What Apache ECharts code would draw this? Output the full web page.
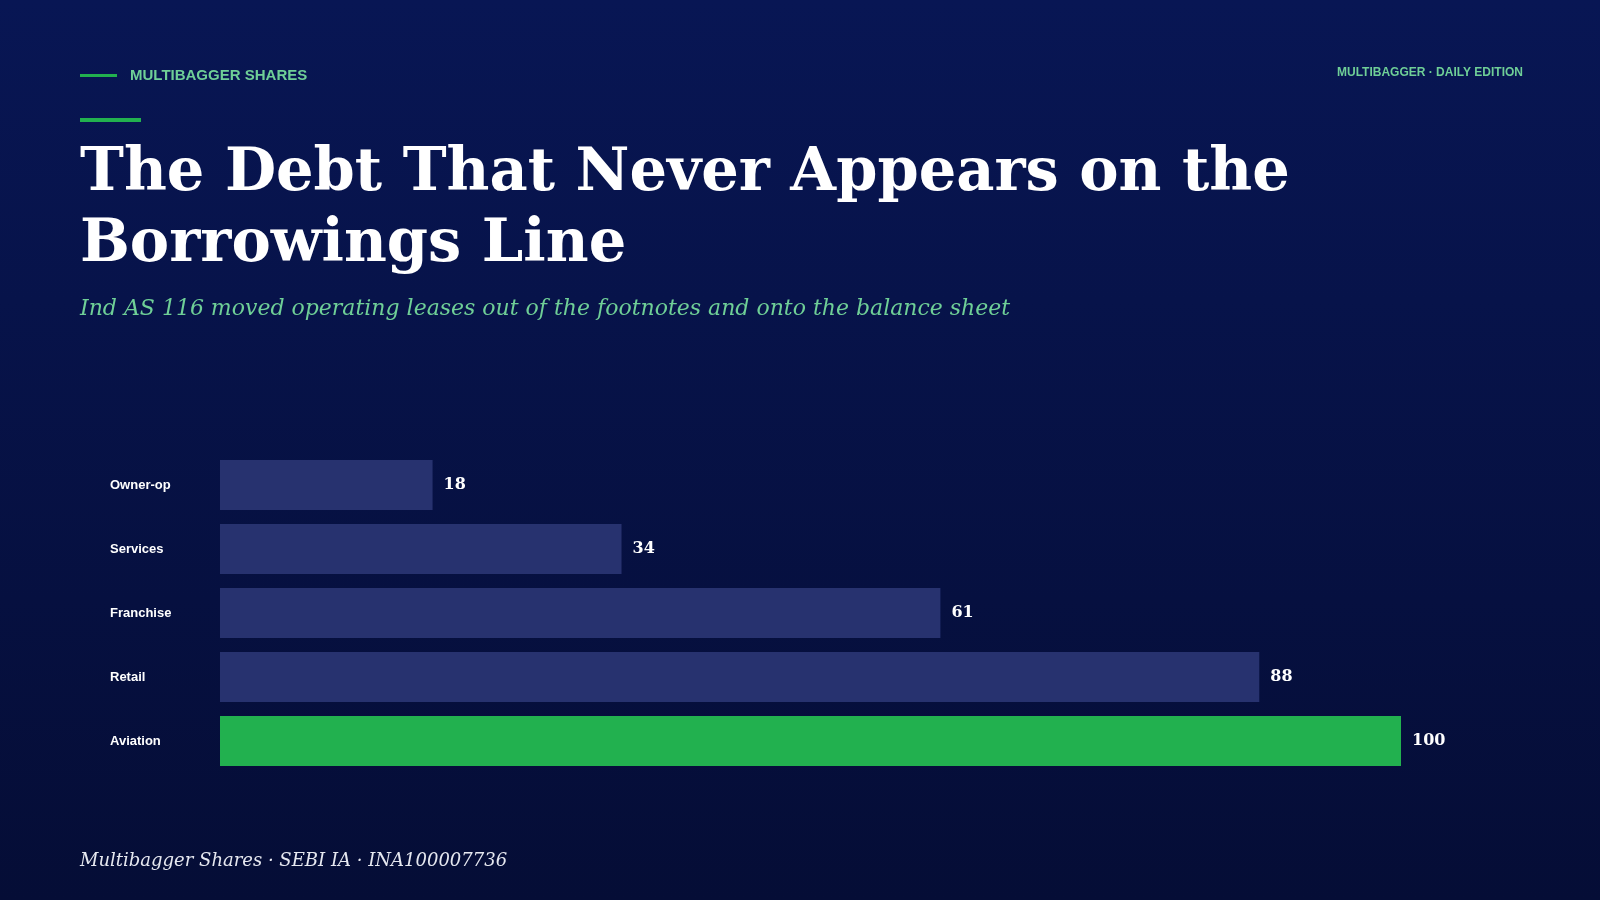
<!DOCTYPE html>
<html><head><meta charset="utf-8">
<script src="https://cdn.jsdelivr.net/npm/echarts@6/dist/echarts.min.js"></script>
<style>html,body{margin:0;padding:0;background:#050d38}#c{width:1600px;height:900px}</style>
</head><body><div id="c"></div>
<script>
const categories = ['Owner-op','Services','Franchise','Retail','Aviation'];
const values = [18,34,61,88,100];
const highlight = 'Aviation';

const chart = echarts.init(document.getElementById('c'));
const serif = '"DejaVu Serif", serif';
const sans = '"Liberation Sans", Arial, sans-serif';
chart.setOption({
  backgroundColor: {type:'linear',x:0,y:0,x2:0,y2:1,colorStops:[{offset:0,color:'#081654'},{offset:1,color:'#050d36'}]},
  grid:{left:220,right:199,top:453,bottom:127},
  xAxis:{type:'value',min:0,max:100,show:false},
  yAxis:{type:'category',inverse:true,data:categories,
    axisLine:{show:false},axisTick:{show:false},
    axisLabel:{align:'left',margin:110,color:'#ffffff',fontFamily:sans,fontWeight:'bold',fontSize:13,padding:[0,0,6,0]}},
  series:[{type:'bar',barWidth:50,animation:false,
    data:values.map((v,i)=>({value:v,itemStyle:{color:categories[i]===highlight?'#22b14f':'#27326f'}})),
    label:{show:true,position:'right',distance:11,color:'#ffffff',fontFamily:serif,fontWeight:'bold',fontSize:16}}],
  graphic:[
    {type:'rect',shape:{x:80,y:74,width:37,height:3},style:{fill:'#22b14f'}},
    {type:'text',x:130,y:76,style:{text:'MULTIBAGGER SHARES',fill:'#6fcf97',font:'bold 15px '+sans,letterSpacing:3.2,verticalAlign:'middle'}},
    {type:'text',x:1523,y:73,style:{text:'MULTIBAGGER · DAILY EDITION',fill:'#6fcf97',font:'bold 12px '+sans,letterSpacing:4.3,align:'right',verticalAlign:'middle'}},
    {type:'rect',shape:{x:80,y:118,width:61,height:4},style:{fill:'#22b14f'}},
    {type:'text',x:80,y:175,style:{text:'The Debt That Never Appears on the',fill:'#ffffff',font:'bold 59px '+serif,verticalAlign:'middle'}},
    {type:'text',x:80,y:246,style:{text:'Borrowings Line',fill:'#ffffff',font:'bold 59px '+serif,verticalAlign:'middle'}},
    {type:'text',x:80,y:309,style:{text:'Ind AS 116 moved operating leases out of the footnotes and onto the balance sheet',fill:'#6fcf97',font:'italic 22px '+serif,verticalAlign:'middle'}},
    {type:'text',x:80,y:861,style:{text:'Multibagger Shares · SEBI IA · INA100007736',fill:'#e6e8f0',font:'italic 18px '+serif,verticalAlign:'middle'}}
  ]
});
</script></body></html>
